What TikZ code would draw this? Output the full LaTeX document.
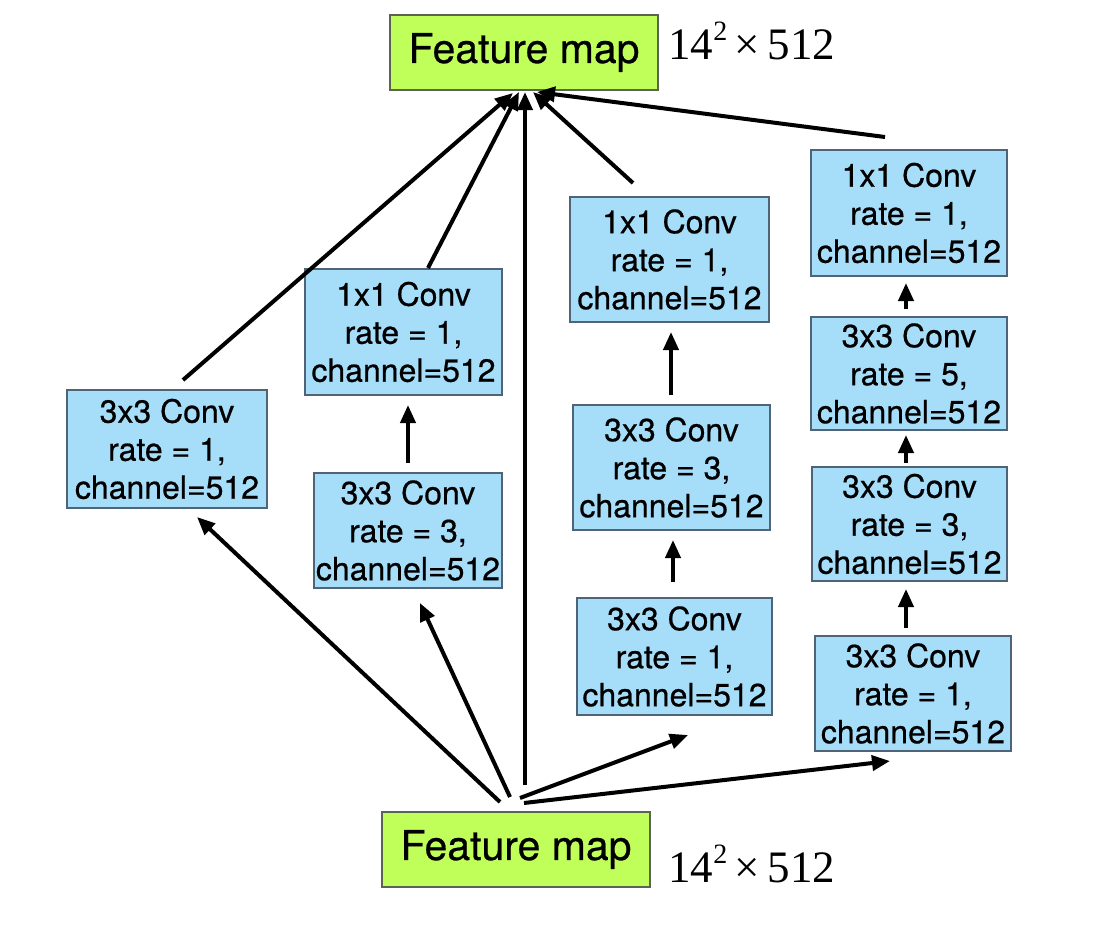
\documentclass[tikz,border=0pt]{standalone}
\usepackage{fontspec}
\setsansfont{TeX Gyre Heros}[FakeBold=0.6]
\newfontfamily\labfont{Liberation Serif}
\usetikzlibrary{arrows.meta}
\definecolor{fmgreen}{RGB}{192,255,90}
\definecolor{fmborder}{RGB}{90,100,80}
\definecolor{convblue}{RGB}{166,222,250}
\definecolor{convborder}{RGB}{80,100,120}
\tikzset{
  fmbox/.style={draw=fmborder, line width=0.6pt, fill=fmgreen, inner sep=0pt,
    font=\sffamily\fontsize{20.5}{24}\selectfont},
  convbox/.style={draw=convborder, line width=0.6pt, fill=convblue, inner sep=0pt,
    align=center, font=\sffamily\fontsize{16}{19}\selectfont},
  sizelab/.style={inner sep=0pt, anchor=base west, font=\labfont\fontsize{22.5}{26}\selectfont},
  arr/.style={line width=2pt, -{Triangle[length=9pt,width=7.5pt]}},
  ln/.style={line width=2pt}
}
\newcommand{\sizetext}{14\raisebox{0.42em}{\fontsize{14}{16}\selectfont 2}\,×\,512}
\begin{document}
\begin{tikzpicture}[x=0.5pt,y=-0.5pt]
\useasboundingbox (0,0) rectangle (1105,943);
% feature maps
\node[fmbox, minimum width=134pt, minimum height=37.5pt] (fmT) at (524,52.5) {Feature map};
\node[fmbox, minimum width=134pt, minimum height=37.5pt] (fmB) at (516,849.5) {Feature map};
\node[sizelab] (labT) at (668,59) {\sizetext};
\node[sizelab] (labB) at (668,882) {\sizetext};
% branch 1
\node[convbox, minimum width=100pt, minimum height=59pt] (B1) at (167,449) {3x3 Conv\\rate = 1,\\channel=512};
% branch 2
\node[convbox, minimum width=98.5pt, minimum height=63pt] (B2) at (403.5,332) {1x1 Conv\\rate = 1,\\channel=512};
\node[convbox, minimum width=94pt, minimum height=57.5pt] (B3) at (408,530.5) {3x3 Conv\\rate = 3,\\channel=512};
% branch 3
\node[convbox, minimum width=99.5pt, minimum height=62.5pt] (C31) at (669.5,259.5) {1x1 Conv\\rate = 1,\\channel=512};
\node[convbox, minimum width=98.5pt, minimum height=62.5pt] (C32) at (671.5,467.5) {3x3 Conv\\rate = 3,\\channel=512};
\node[convbox, minimum width=97.5pt, minimum height=58.5pt] (C33) at (674.5,656.5) {3x3 Conv\\rate = 1,\\channel=512};
% branch 4
\node[convbox, minimum width=98pt, minimum height=63pt] (C41) at (909,213) {1x1 Conv\\rate = 1,\\channel=512};
\node[convbox, minimum width=98pt, minimum height=56.5pt] (C42) at (909,373.5) {3x3 Conv\\rate = 5,\\channel=512};
\node[convbox, minimum width=97.5pt, minimum height=57pt] (C43) at (909.5,524) {3x3 Conv\\rate = 3,\\channel=512};
\node[convbox, minimum width=98pt, minimum height=57.5pt] (C44) at (913,693.5) {3x3 Conv\\rate = 1,\\channel=512};
% connector end points
\coordinate (s1) at (500,802); \coordinate (t1) at (197,517);
\coordinate (s2) at (510,797); \coordinate (t2) at (420,603);
\coordinate (s3) at (525,785); \coordinate (t3) at (525,92);
\coordinate (s4) at (520,798); \coordinate (t4) at (688,735);
\coordinate (s5) at (524,803); \coordinate (t5) at (890,761);
\coordinate (u1) at (183,380); \coordinate (v1) at (513,93);
\coordinate (u2) at (428,268); \coordinate (v2) at (519,92);
\coordinate (u4) at (633,183); \coordinate (v4) at (533,92);
\coordinate (u5) at (885,137); \coordinate (v5) at (537,92);
% fan from bottom feature map
\draw[arr] (s1) -- (t1);
\draw[arr] (s2) -- (t2);
\draw[arr] (s3) -- (t3);
\draw[arr] (s4) -- (t4);
\draw[arr] (s5) -- (t5);
% into top feature map
\draw[arr] (u1) -- (v1);
\draw[arr] (u2) -- (v2);
\draw[arr] (u4) -- (v4);
\draw[arr] (u5) -- (v5);
% inside branches
\draw[arr, shorten <=5pt, shorten >=5pt] (408,473) -- (408,395);
\draw[arr, shorten <=5pt, shorten >=5pt] (671,405) -- (671,322);
\draw[arr, shorten <=8pt, shorten >=5pt] (673,598) -- (673,530);
\draw[arr, shorten <=4pt, shorten >=3.5pt] (906,317) -- (906,276);
\draw[arr, shorten <=2pt, shorten >=2.5pt] (906,467) -- (906,430);
\draw[arr, shorten <=4pt, shorten >=4pt] (906,636) -- (906,581);
\end{tikzpicture}
\end{document}
